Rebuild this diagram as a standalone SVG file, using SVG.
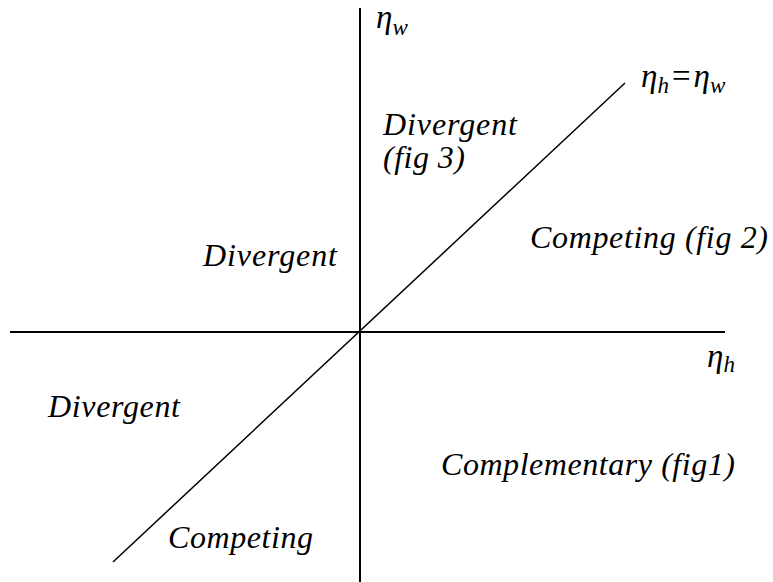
<svg xmlns="http://www.w3.org/2000/svg" width="773" height="582" viewBox="0 0 773 582">
<style>
.t{font-family:"Liberation Serif","DejaVu Serif",serif;font-style:italic;font-size:32px;fill:#000}
.e{font-family:"Liberation Serif","DejaVu Serif",serif;font-style:italic;font-size:33px;fill:#000}
.s{font-size:23px}
.ax{stroke:#000;stroke-width:2;fill:none}
.dg{stroke:#000;stroke-width:1.5;fill:none}
</style>
<rect width="773" height="582" fill="#fff"/>
<g id="connectors">
<line class="ax" x1="360" y1="8" x2="360" y2="582"/>
<line class="ax" x1="10" y1="332" x2="725" y2="332"/>
<line class="dg" x1="113" y1="562" x2="625" y2="83"/>
</g>
<g id="axis-labels">
<text class="e" x="376" y="28">η<tspan class="s" dy="7">w</tspan></text>
<text class="e" x="641" y="87">η<tspan class="s" dy="6">h</tspan><tspan dx="3" dy="-6" font-style="normal">=</tspan><tspan dx="3">η</tspan><tspan class="s" dy="6">w</tspan></text>
<text class="e" x="707" y="367">η<tspan class="s" dy="5">h</tspan></text>
</g>
<g id="regions">
<text class="t" x="383" y="135" textLength="134" lengthAdjust="spacing">Divergent</text>
<text class="t" x="383" y="168" textLength="82" lengthAdjust="spacing">(fig 3)</text>
<text class="t" x="530" y="248" textLength="238" lengthAdjust="spacing">Competing (fig 2)</text>
<text class="t" x="203" y="266" textLength="134" lengthAdjust="spacing">Divergent</text>
<text class="t" x="48" y="417" textLength="132" lengthAdjust="spacing">Divergent</text>
<text class="t" x="441" y="475" textLength="294" lengthAdjust="spacing">Complementary (fig1)</text>
<text class="t" x="168" y="548" textLength="145" lengthAdjust="spacing">Competing</text>
</g>
</svg>
